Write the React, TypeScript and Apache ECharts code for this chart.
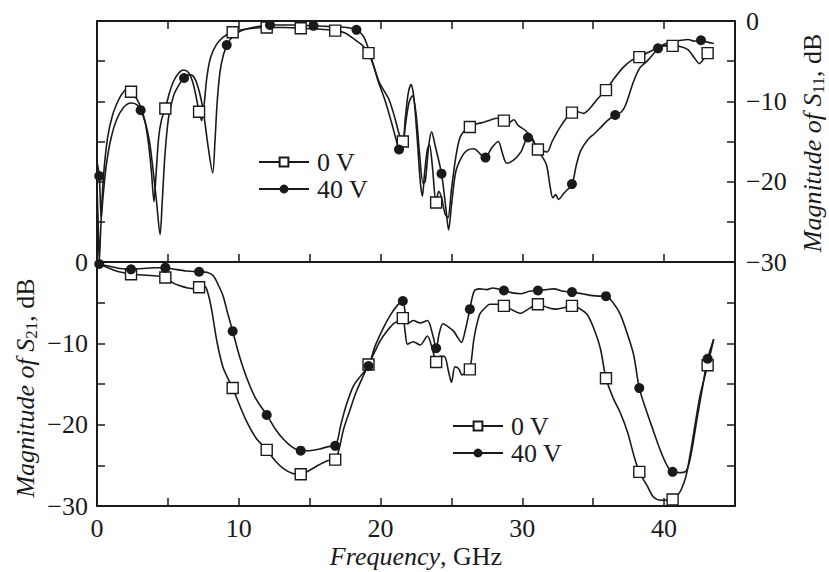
import React, { useEffect, useRef } from 'react';
import * as echarts from 'echarts';

const FONT = 'Liberation Serif, Times New Roman, serif';
const INK = '#1a1a1a';

const freqLabels = [0, 10, 20, 30, 40];
const dbLabels = [0, -10, -20, -30];
const seriesNames = ['0 V', '40 V'];

// S11 (top panel) — frequency GHz, magnitude dB
const s11_0V: [number, number][] = [
  [0.0, -20.5], [0.08, -25], [0.16, -30], [0.26, -26], [0.45, -19.5], [0.75, -14.5], [1.1, -11.7], [1.5, -9.9],
  [1.8, -9.0], [2.1, -8.5], [2.4, -8.8], [2.8, -9.7], [3.1, -10.8], [3.4, -12.6], [3.65, -15.5], [3.85, -19],
  [4.02, -22.5], [4.15, -19.5], [4.35, -14.5], [4.55, -12.3], [4.82, -10.9], [5.1, -9.0], [5.4, -7.5], [5.75, -6.5],
  [6.1, -6.1], [6.45, -6.4], [6.75, -7.6], [7.0, -9.5], [7.2, -11.3], [7.38, -12.4], [7.55, -10.5], [7.75, -7],
  [8.0, -4.6], [8.4, -3.0], [8.9, -2.0], [9.57, -1.4], [10.5, -1.0], [11.97, -0.8], [13.2, -0.8], [14.37, -0.9],
  [15.6, -1.0], [16.8, -1.2], [17.5, -1.5], [18.1, -2.2], [18.7, -3.0], [19.15, -4.0], [19.55, -5.8], [19.9, -7.6],
  [20.25, -8.7], [20.6, -9.8], [21.0, -12.0], [21.3, -14.0], [21.57, -15.0], [21.75, -12], [21.95, -9], [22.15, -7.9],
  [22.35, -9.5], [22.6, -15], [22.8, -20], [22.95, -21.8], [23.1, -19], [23.3, -16], [23.45, -15.4], [23.65, -18],
  [23.92, -22.6], [24.1, -21.2], [24.3, -22], [24.55, -24], [24.75, -24.5], [25.0, -21], [25.3, -17], [25.6, -14.5],
  [25.95, -13.6], [26.3, -13.2], [26.8, -12.8], [27.3, -12.6], [27.8, -12.3], [28.2, -12.1], [28.7, -12.4], [29.1, -12.6],
  [29.4, -12.3], [29.7, -13.0], [30.2, -13.6], [30.7, -14.6], [31.1, -16.0], [31.45, -16.2], [31.75, -16.3], [32.1, -15.0],
  [32.6, -13.4], [33.1, -12.1], [33.5, -11.4], [33.9, -11.3], [34.3, -11.5], [34.8, -10.8], [35.3, -9.7], [35.9, -8.6],
  [36.5, -7.1], [37.1, -5.8], [37.7, -4.9], [38.25, -4.5], [38.9, -3.9], [39.5, -3.4], [40.0, -3.1], [40.6, -3.1],
  [41.2, -3.2], [41.7, -3.6], [42.1, -4.5], [42.5, -5.3], [42.8, -4.7], [43.07, -4.0], [43.3, -3.8],
];

const s11_40V: [number, number][] = [
  [0.0, -17.5], [0.16, -19.3], [0.3, -24.5], [0.42, -22], [0.65, -18], [1.0, -14.5], [1.4, -12.2], [1.9, -10.7],
  [2.4, -10.2], [2.8, -10.4], [3.08, -11.1], [3.4, -12.6], [3.7, -15], [3.95, -18.5], [4.2, -22.5], [4.45, -26.6],
  [4.6, -22.5], [4.8, -16.5], [5.05, -12], [5.4, -9.3], [5.8, -7.9], [6.14, -7.1], [6.45, -6.7], [6.75, -6.8],
  [7.05, -7.8], [7.35, -9.8], [7.6, -12.5], [7.85, -15.8], [8.16, -18.9], [8.32, -15], [8.5, -9.5], [8.75, -5.5],
  [9.15, -3.0], [9.6, -1.9], [10.2, -1.2], [11.0, -0.8], [12.2, -0.5], [13.7, -0.5], [15.27, -0.6], [16.6, -0.7],
  [17.6, -0.8], [18.3, -1.1], [18.8, -1.9], [19.3, -4.3], [19.8, -7.3], [20.3, -9.8], [20.8, -12.8], [21.3, -16.0],
  [21.5, -16.4], [21.75, -13], [22.0, -10.2], [22.25, -9.3], [22.5, -11.5], [22.75, -16.5], [23.0, -20.2], [23.15, -20],
  [23.4, -15.5], [23.6, -13.8], [23.85, -15.5], [24.3, -19.0], [24.6, -23.2], [24.8, -26], [25.0, -23], [25.3, -18.8],
  [25.7, -17.0], [26.1, -16.1], [26.6, -15.9], [27.0, -16.5], [27.4, -17.0], [27.8, -15.9], [28.3, -15.0], [28.6, -16.5],
  [28.9, -17.7], [29.4, -17.3], [29.9, -16.3], [30.4, -14.5], [30.8, -15.1], [31.3, -16.6], [31.7, -17.9], [31.95, -20.5],
  [32.15, -22.0], [32.35, -21.6], [32.55, -22.2], [32.9, -21.5], [33.5, -20.3], [33.8, -18], [34.1, -16.2], [34.6, -14.8],
  [35.1, -14], [35.5, -13.3], [36.0, -12.4], [36.55, -11.7], [37.0, -11.3], [37.3, -10.4], [37.85, -7.5], [38.3, -5.8],
  [38.8, -5.0], [39.2, -4.2], [39.57, -3.4], [40.0, -2.9], [40.6, -2.6], [41.2, -2.4], [41.7, -2.3], [42.1, -2.5],
  [42.6, -2.4], [43.0, -2.6], [43.5, -2.8],
];

const s11_0V_markers: [number, number][] = [
  [2.4, -8.8], [4.82, -10.9], [7.2, -11.3], [9.57, -1.4], [11.97, -0.8], [14.37, -0.9], [16.8, -1.2], [19.15, -4.0],
  [21.57, -15.0], [23.92, -22.6], [26.3, -13.2], [28.7, -12.4], [31.1, -16.0], [33.5, -11.4], [35.9, -8.6], [38.25, -4.5],
  [40.6, -3.1], [43.07, -4.0],
];
const s11_40V_markers: [number, number][] = [
  [0.16, -19.3], [3.08, -11.1], [6.14, -7.1], [9.15, -3.0], [12.2, -0.5], [15.27, -0.6], [18.3, -1.1], [21.3, -16.0],
  [24.3, -19.0], [27.4, -17.0], [30.4, -14.5], [33.5, -20.3], [36.55, -11.7], [39.57, -3.4], [42.6, -2.4],
];

// S21 (bottom panel)
const s21_0V: [number, number][] = [
  [0, 0], [0.5, -0.5], [1.2, -1.0], [1.8, -1.3], [2.4, -1.5], [3.2, -1.6], [4.0, -1.7], [4.82, -1.9],
  [5.3, -2.5], [5.8, -2.9], [6.4, -3.2], [6.9, -3.3], [7.2, -3.1], [7.6, -3.0], [7.85, -4.0], [8.1, -6.0],
  [8.45, -9.7], [8.9, -13.0], [9.57, -15.5], [10.1, -17.8], [10.55, -19.6], [11.2, -21.6], [11.97, -23.1], [12.6, -24.5],
  [13.15, -25.4], [13.8, -26.0], [14.37, -26.1], [15.0, -25.6], [15.7, -24.9], [16.3, -24.4], [16.8, -24.3], [17.1, -22.8],
  [17.4, -20.5], [17.9, -17.9], [18.3, -15.9], [19.15, -12.6], [19.6, -11.0], [19.97, -9.7], [20.4, -8.6], [20.9, -7.6],
  [21.3, -7.2], [21.57, -6.9], [21.75, -8.8], [21.9, -10.1], [22.3, -9.8], [22.8, -10.2], [23.3, -9.1], [23.7, -11.0],
  [23.92, -12.3], [24.2, -11.6], [24.5, -11.6], [24.8, -13.5], [25.0, -14.8], [25.25, -12.9], [25.5, -13.1], [25.75, -13.9],
  [26.0, -13.6], [26.3, -13.2], [26.6, -9.3], [27.0, -6.4], [27.4, -5.6], [27.7, -5.2], [28.2, -5.2], [28.7, -5.4],
  [29.3, -5.9], [29.85, -6.3], [30.5, -5.7], [31.1, -5.2], [31.8, -5.6], [32.4, -5.8], [33.0, -5.6], [33.5, -5.4],
  [34.1, -5.8], [34.55, -6.4], [35.0, -8.0], [35.5, -10.6], [35.9, -14.3], [36.4, -16.7], [36.9, -18.5], [37.4, -20.8],
  [37.9, -24.0], [38.25, -25.8], [38.8, -27.5], [39.25, -28.9], [39.8, -29.3], [40.6, -29.2], [40.9, -28.8], [41.2, -28.0],
  [41.55, -26.3], [41.9, -23.0], [42.2, -19.8], [42.55, -16.3], [43.07, -12.7], [43.5, -9.5],
];

const s21_40V: [number, number][] = [
  [0, 0], [0.16, -0.25], [0.8, -0.5], [1.6, -0.8], [2.4, -0.9], [3.2, -0.8], [4.0, -0.7], [4.82, -0.7],
  [5.5, -0.9], [6.3, -1.1], [7.2, -1.2], [7.8, -1.3], [8.2, -1.7], [8.55, -2.8], [8.9, -4.2], [9.2, -6.2],
  [9.57, -8.5], [10.05, -11.6], [10.55, -14.2], [11.2, -16.8], [11.97, -18.8], [12.6, -20.6], [13.15, -21.8], [13.8, -22.8],
  [14.37, -23.2], [15.0, -23.2], [15.7, -23.0], [16.3, -22.7], [16.8, -22.6], [17.2, -20.0], [17.6, -17.5], [18.1, -15.2],
  [18.6, -14.0], [19.15, -12.8], [19.6, -10.4], [20.2, -8.1], [20.7, -6.5], [21.2, -5.3], [21.57, -4.8], [21.75, -6.5],
  [21.9, -7.6], [22.3, -7.2], [22.8, -7.5], [23.3, -7.2], [23.7, -9.1], [23.92, -10.6], [24.15, -8.7], [24.4, -7.6],
  [24.8, -8.0], [25.15, -8.5], [25.45, -9.3], [25.7, -9.9], [26.0, -8.2], [26.3, -5.8], [26.6, -3.6], [27.0, -3.3],
  [27.5, -3.4], [27.9, -3.2], [28.7, -3.5], [29.3, -3.8], [29.85, -3.9], [30.5, -3.6], [31.1, -3.5], [31.7, -3.4],
  [32.2, -3.3], [32.9, -3.6], [33.5, -3.7], [34.2, -3.9], [34.8, -4.1], [35.4, -4.2], [35.9, -4.2], [36.4, -5.0],
  [36.9, -6.4], [37.4, -8.8], [37.85, -11.4], [38.25, -15.5], [38.75, -18.3], [39.25, -20.8], [39.7, -23.0], [40.2, -25.0],
  [40.6, -25.8], [41.2, -25.9], [41.6, -25.6], [41.95, -23.2], [42.3, -19.5], [42.7, -15.5], [43.07, -11.9], [43.5, -9.5],
];

const s21_0V_markers: [number, number][] = [
  [2.4, -1.5], [4.82, -1.9], [7.2, -3.1], [9.57, -15.5], [11.97, -23.1], [14.37, -26.1], [16.8, -24.3], [19.15, -12.6],
  [21.57, -6.9], [23.92, -12.3], [26.3, -13.2], [28.7, -5.4], [31.1, -5.2], [33.5, -5.4], [35.9, -14.3], [38.25, -25.8],
  [40.6, -29.2], [43.07, -12.7],
];
const s21_40V_markers: [number, number][] = [
  [0.16, -0.25], [2.4, -0.9], [4.82, -0.7], [7.2, -1.2], [9.57, -8.5], [11.97, -18.8], [14.37, -23.2], [16.8, -22.6],
  [19.15, -12.8], [21.57, -4.8], [23.92, -10.6], [26.3, -5.8], [28.7, -3.5], [31.1, -3.5], [33.5, -3.7], [35.9, -4.2],
  [38.25, -15.5], [40.6, -25.8], [43.07, -11.9],
];

const fmtDb = (v: number) => (dbLabels.includes(v) ? (v < 0 ? '\u2212' + Math.abs(v) : String(v)) : '');
const fmtF = (v: number) => (freqLabels.includes(v) ? String(v) : '');

export default function App() {
  const ref = useRef<HTMLDivElement>(null);
  useEffect(() => {
    if (!ref.current) return;
    const chart = echarts.init(ref.current, undefined, { renderer: 'svg' });
    const axisLine = { show: true, onZero: false, lineStyle: { color: INK, width: 2 } };
    const tickIn = { show: true, inside: true, length: 8, lineStyle: { color: INK, width: 1.5 } };
    const labelStyle = { fontFamily: FONT, fontSize: 26, color: INK };
    const xBase = { type: 'value', min: 0, max: 45, interval: 5, axisLine, axisTick: tickIn, splitLine: { show: false } };
    const yBase = { type: 'value', min: -30, max: 0, interval: 5, axisLine, axisTick: tickIn, splitLine: { show: false } };
    const lineSeries = (name: string, data: [number, number][], xi: number, yi: number, sym: string) => ({
      type: 'line', name, data, xAxisIndex: xi, yAxisIndex: yi, smooth: 0.3, showSymbol: false,
      symbol: sym, symbolSize: 10,
      lineStyle: { color: INK, width: 1.6 },
      itemStyle: sym === 'rect' ? { color: '#fff', borderColor: INK, borderWidth: 1.3, opacity: 1 } : { color: INK, opacity: 1 },
      z: 2,
    });
    const markSeries = (name: string, data: [number, number][], xi: number, yi: number, sym: string) => ({
      type: 'scatter', name, data, xAxisIndex: xi, yAxisIndex: yi,
      symbol: sym, symbolSize: sym === 'rect' ? 11 : 10,
      itemStyle: sym === 'rect'
        ? { color: '#fff', borderColor: INK, borderWidth: 1.4, opacity: 1 }
        : { color: INK, opacity: 1 },
      z: 3,
    });
    const legendBase = {
      data: seriesNames, orient: 'vertical', itemWidth: 50, itemHeight: 11, itemGap: 1, padding: 0,
      selectedMode: false, textStyle: { ...labelStyle, lineHeight: 24, padding: [0, 0, 0, 3] },
    };
    const titleRich = {
      i: { fontFamily: FONT, fontSize: 26, fontStyle: 'italic', fill: INK },
      n: { fontFamily: FONT, fontSize: 26, fill: INK },
      s: { fontFamily: FONT, fontSize: 17, fill: INK, padding: [12, 0, 0, 0] },
    };
    chart.setOption({
      animation: false,
      backgroundColor: '#fff',
      grid: [
        { left: 97, top: 21, width: 638, height: 241 },
        { left: 97, top: 262, width: 638, height: 244 },
      ],
      xAxis: [
        { ...xBase, gridIndex: 0, position: 'bottom', axisLabel: { show: false } },
        { ...xBase, gridIndex: 0, position: 'top', axisLabel: { show: false } },
        { ...xBase, gridIndex: 1, position: 'bottom', axisLabel: { ...labelStyle, formatter: fmtF, margin: 9 } },
      ],
      yAxis: [
        { ...yBase, gridIndex: 0, position: 'right', axisLabel: { ...labelStyle, formatter: fmtDb, margin: 11 } },
        { ...yBase, gridIndex: 0, position: 'left', axisLabel: { show: false } },
        { ...yBase, gridIndex: 1, position: 'left', axisLabel: { ...labelStyle, formatter: fmtDb, margin: 9 } },
        { ...yBase, gridIndex: 1, position: 'right', axisLabel: { show: false } },
      ],
      legend: [
        { ...legendBase, left: 258, top: 149 },
        { ...legendBase, left: 452, top: 413 },
      ],
      graphic: [
        {
          type: 'text', x: 416, y: 556,
          style: { text: '{i|Frequency}{n|, GHz}', rich: titleRich, align: 'center', verticalAlign: 'middle' },
        },
        {
          type: 'text', x: 25, y: 388, rotation: Math.PI / 2,
          style: { text: '{i|Magnitude of S}{s|21}{n|, dB}', rich: titleRich, align: 'center', verticalAlign: 'middle' },
        },
        {
          type: 'text', x: 812, y: 143, rotation: Math.PI / 2,
          style: { text: '{i|Magnitude of S}{s|11}{n|, dB}', rich: titleRich, align: 'center', verticalAlign: 'middle' },
        },
      ],
      series: [
        lineSeries(seriesNames[0], s11_0V, 0, 0, 'rect'),
        lineSeries(seriesNames[1], s11_40V, 0, 0, 'circle'),
        markSeries('m0a', s11_0V_markers, 0, 0, 'rect'),
        markSeries('m1a', s11_40V_markers, 0, 0, 'circle'),
        lineSeries(seriesNames[0], s21_0V, 2, 2, 'rect'),
        lineSeries(seriesNames[1], s21_40V, 2, 2, 'circle'),
        markSeries('m0b', s21_0V_markers, 2, 2, 'rect'),
        markSeries('m1b', s21_40V_markers, 2, 2, 'circle'),
      ],
    });
    return () => chart.dispose();
  }, []);
  return (
    <div
      ref={ref}
      style={{ position: 'fixed', left: 0, top: 0, width: 829, height: 572, background: '#fff' }}
    />
  );
}
